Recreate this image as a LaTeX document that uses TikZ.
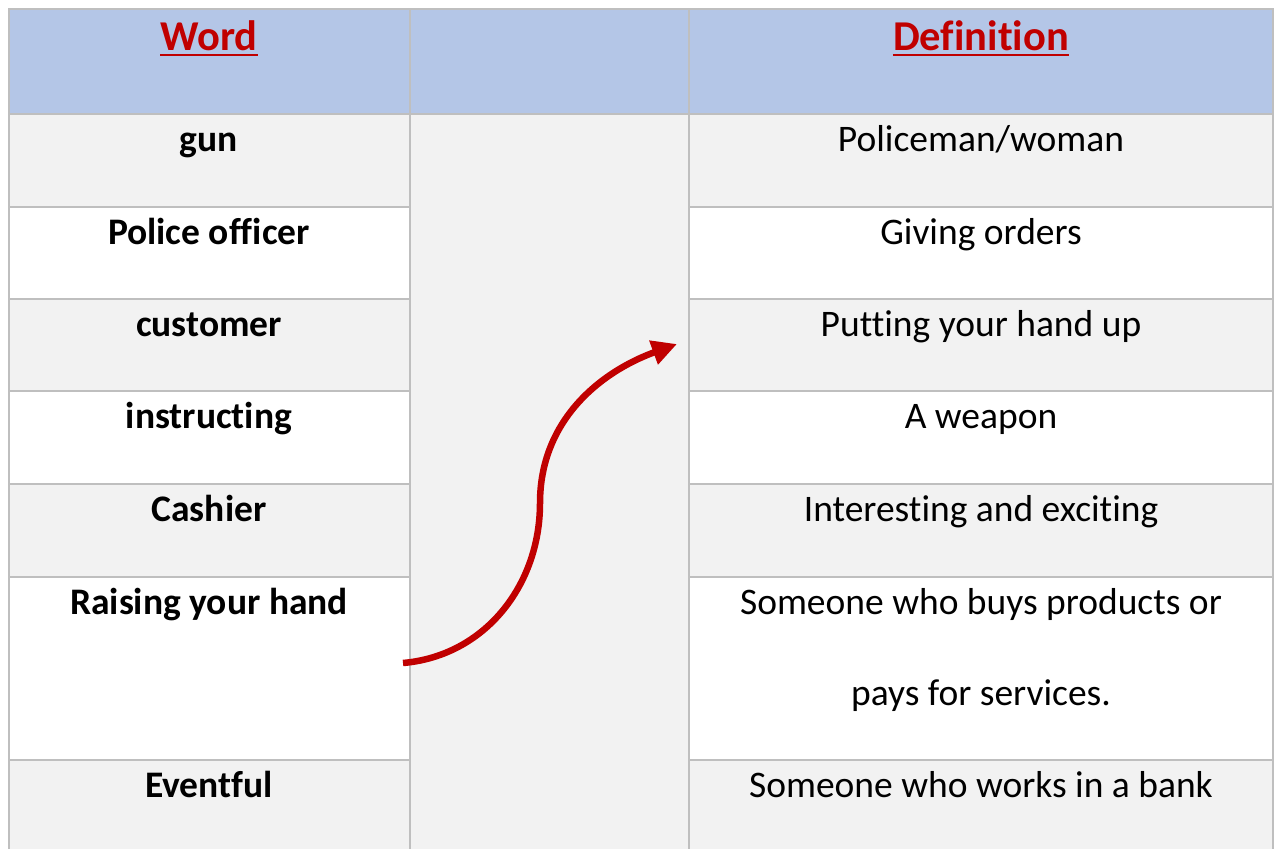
\documentclass[tikz,border=0pt]{standalone}
\usepackage{fontspec}
\setmainfont{Carlito}[Ligatures=NoCommon]
\usetikzlibrary{arrows.meta}
\definecolor{headblue}{HTML}{B4C6E7}
\definecolor{cellgray}{HTML}{F2F2F2}
\definecolor{rulegray}{HTML}{BFBFBF}
\definecolor{darkred}{HTML}{C00000}
\tikzset{
	rule/.style={rulegray, line width=2pt},
	wordtext/.style={anchor=base, inner sep=0pt, font=\fontsize{37.5}{45}\selectfont\bfseries},
	deftext/.style={anchor=base, inner sep=0pt, align=center, font=\fontsize{37.5}{91}\selectfont},
	headtext/.style={anchor=base, inner sep=0pt, text=darkred, font=\fontsize{42.5}{50}\selectfont\bfseries},
	headline/.style={darkred, line width=2.5pt},
	bentarrow/.style={darkred, line width=6.5pt, -{Triangle[length=25pt,width=24pt]}}
}
\begin{document}
\begin{tikzpicture}[x=1pt,y=-1pt]
	\useasboundingbox (0,0) rectangle (1276,849);
	% fill header and shaded rows
	\fill[headblue] (9,9) rectangle (1273,114);
	\fill[cellgray] (410,114) rectangle (689,849);
	\foreach \ya/\yb in {114/207,299/391,484/577,760/849} {
		\fill[cellgray] (9,\ya) rectangle (410,\yb);
		\fill[cellgray] (689,\ya) rectangle (1273,\yb);
	}
	% draw table rules
	\draw[rule] (9,849) -- (9,9) -- (1273,9) -- (1273,849);
	\draw[rule] (410,9) -- (410,849);
	\draw[rule] (689,9) -- (689,849);
	\draw[rule] (9,114) -- (1273,114);
	\foreach \y in {207,299,391,484,577,760} {
		\draw[rule] (9,\y) -- (410,\y);
		\draw[rule] (689,\y) -- (1273,\y);
	}
	% header
	\node[headtext] (hword) at (209,50) {Word};
	\node[headtext] (hdef) at (981,50) {Definition};
	\draw[headline] ([yshift=-5pt]hword.base west) -- ([yshift=-5pt]hword.base east);
	\draw[headline] ([yshift=-5pt]hdef.base west) -- ([yshift=-5pt]hdef.base east);
	% words
	\foreach \n/\y/\txt in {1/151/gun, 2/244/Police officer, 3/336/customer, 4/428/instructing,
		5/521/Cashier, 6/614/Raising your hand, 7/797/Eventful}
		\node[wordtext] (w\n) at (209,\y) {\txt};
	% definitions (base of the two-line cell is its last line)
	\foreach \n/\y/\txt in {1/151/{Policeman/woman}, 2/244/Giving orders, 3/336/Putting your hand up,
		4/428/A weapon, 5/521/Interesting and exciting,
		6/705/{Someone who buys products or\\pays for services.}, 7/797/Someone who works in a bank}
		\node[deftext] (d\n) at (981,\y) {\txt};
	% arrow
	\coordinate (astart) at (403,663);
	\coordinate (abend) at (540,503);
	\coordinate (aend) at (677,344);
	\draw[bentarrow] (astart) to[out=5,in=-90] (abend) to[out=90,in=200] (aend);
\end{tikzpicture}
\end{document}
